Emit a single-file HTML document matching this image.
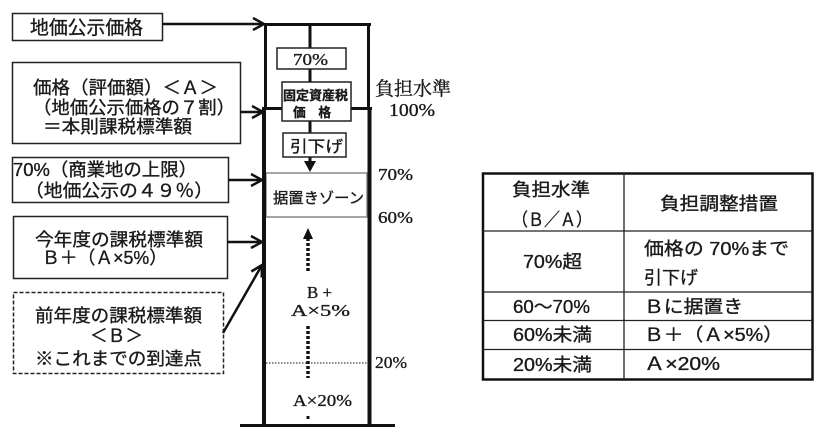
<!DOCTYPE html>
<html><head><meta charset="utf-8"><style>
html,body{margin:0;padding:0;background:#fff;}
svg{display:block;}
text{font-family:"Liberation Sans","Noto Sans CJK JP",sans-serif;fill:#1a1a1a;stroke:#1a1a1a;stroke-width:0.35px;}
.s{font-family:"Liberation Serif","Noto Serif CJK SC",serif;}
</style></head><body>
<svg width="825" height="443" viewBox="0 0 825 443" xmlns="http://www.w3.org/2000/svg">
<rect width="825" height="443" fill="#fff"/>
<g fill="none" stroke="#222" stroke-width="1.5">
<rect x="12.5" y="13.5" width="150" height="27"/>
<rect x="12.5" y="62.5" width="228" height="81"/>
<rect x="12.5" y="157.5" width="216" height="45"/>
<rect x="13.5" y="216.5" width="214" height="62"/>
<rect x="13.5" y="292.5" width="210" height="81" stroke-dasharray="4,2"/>
</g>
<g stroke="#111" stroke-width="2.5" fill="none">
<line x1="162" y1="24" x2="264" y2="24"/><polyline points="253,18 264,24 253,30"/>
<line x1="240" y1="112" x2="263" y2="112"/><polyline points="252,106 263,112 252,118"/>
<line x1="228" y1="180" x2="262" y2="180"/><polyline points="251,174 262,180 251,186"/>
<line x1="227" y1="242" x2="262" y2="242"/><polyline points="251,236 262,242 251,248"/>
<line x1="223" y1="333" x2="262" y2="265"/><polyline points="251.3,271.5 262,265 261.7,277.5"/>
</g>
<rect x="266" y="173" width="101" height="44" fill="#fff" stroke="#888" stroke-width="1.5"/>
<g stroke="#111" fill="none">
<line x1="264" y1="24.5" x2="371" y2="24.5" stroke-width="3"/>
<line x1="265.5" y1="23" x2="265.5" y2="110" stroke-width="3"/>
<line x1="368.5" y1="23" x2="368.5" y2="110" stroke-width="3"/>
<line x1="262" y1="108.5" x2="372" y2="108.5" stroke-width="3"/>
<line x1="264" y1="107" x2="264" y2="427" stroke-width="4"/>
<line x1="369.5" y1="107" x2="369.5" y2="427" stroke-width="4"/>
<line x1="240" y1="425.5" x2="395" y2="425.5" stroke-width="3"/>
<line x1="310" y1="24" x2="310" y2="163" stroke-width="3"/>
</g>
<polygon points="304,161 316,161 310,172" fill="#111"/>
<g fill="#fff" stroke="#222" stroke-width="1.5">
<rect x="277" y="48" width="69" height="21"/>
<rect x="282" y="82" width="69" height="39"/>
<rect x="283" y="133" width="63" height="24"/>
</g>
<g stroke="#111" stroke-width="3.5" stroke-dasharray="3,2">
<line x1="308" y1="238" x2="308" y2="273"/>
<line x1="308" y1="326" x2="308" y2="378"/>
</g>
<polygon points="303,239 313,239 308,228" fill="#111"/>
<rect x="306.5" y="416" width="3" height="3" fill="#111"/>
<line x1="266" y1="363" x2="367" y2="363" stroke="#111" stroke-width="1" stroke-dasharray="1.5,1.5"/>
<text x="30" y="34" font-size="19" textLength="113" lengthAdjust="spacingAndGlyphs">地価公示価格</text>
<text x="33" y="94" font-size="18" textLength="185" lengthAdjust="spacingAndGlyphs">価格（評価額）＜Ａ＞</text>
<text x="33" y="114" font-size="18" textLength="202" lengthAdjust="spacingAndGlyphs">（地価公示価格の７割）</text>
<text x="43" y="133" font-size="18" textLength="149" lengthAdjust="spacingAndGlyphs">＝本則課税標準額</text>
<text x="13" y="176" font-size="18" textLength="184" lengthAdjust="spacingAndGlyphs">70%（商業地の上限）</text>
<text x="25" y="197" font-size="18" textLength="188" lengthAdjust="spacingAndGlyphs">（地価公示の４９％）</text>
<text x="35" y="246" font-size="18" textLength="168" lengthAdjust="spacingAndGlyphs">今年度の課税標準額</text>
<text x="42" y="264" font-size="18" textLength="125" lengthAdjust="spacingAndGlyphs">Ｂ＋（Ａ×5%）</text>
<text x="35" y="322" font-size="18" textLength="167" lengthAdjust="spacingAndGlyphs">前年度の課税標準額</text>
<text x="90" y="342" font-size="18" textLength="53" lengthAdjust="spacingAndGlyphs">＜Ｂ＞</text>
<text x="35" y="365" font-size="18" textLength="167" lengthAdjust="spacingAndGlyphs">※これまでの到達点</text>
<text class="s" x="293" y="65" font-size="17" textLength="35" lengthAdjust="spacingAndGlyphs">70%</text>
<text x="283" y="100" font-size="13" font-weight="bold" textLength="65" lengthAdjust="spacingAndGlyphs">固定資産税</text>
<text x="293" y="117" font-size="13" font-weight="bold" textLength="38" lengthAdjust="spacingAndGlyphs">価　格</text>
<text x="290" y="152" font-size="16" textLength="53" lengthAdjust="spacingAndGlyphs">引下げ</text>
<text x="273" y="203" font-size="15" textLength="91" lengthAdjust="spacingAndGlyphs">据置きゾーン</text>
<text class="s" x="307" y="298" font-size="17" textLength="25" lengthAdjust="spacingAndGlyphs">B +</text>
<text class="s" x="291" y="316" font-size="17" textLength="59" lengthAdjust="spacingAndGlyphs">A×5%</text>
<text class="s" x="293" y="406" font-size="17" textLength="59" lengthAdjust="spacingAndGlyphs">A×20%</text>
<text class="s" x="375" y="95" font-size="19" textLength="76" lengthAdjust="spacingAndGlyphs">負担水準</text>
<text class="s" x="389" y="116" font-size="18" textLength="46" lengthAdjust="spacingAndGlyphs">100%</text>
<text class="s" x="378" y="180" font-size="17" textLength="35" lengthAdjust="spacingAndGlyphs">70%</text>
<text class="s" x="378" y="223" font-size="17" textLength="35" lengthAdjust="spacingAndGlyphs">60%</text>
<text class="s" x="375" y="368" font-size="17" textLength="32" lengthAdjust="spacingAndGlyphs">20%</text>
<rect x="483" y="173.5" width="329.5" height="206" fill="none" stroke="#111" stroke-width="2.5"/>
<g stroke="#222" stroke-width="1.3">
<line x1="624" y1="173" x2="624" y2="380"/>
<line x1="483" y1="231" x2="812" y2="231"/>
<line x1="483" y1="292" x2="812" y2="292"/>
<line x1="483" y1="320.5" x2="812" y2="320.5"/>
<line x1="483" y1="349.5" x2="812" y2="349.5"/>
</g>
<text x="512" y="196" font-size="18" textLength="78" lengthAdjust="spacingAndGlyphs">負担水準</text>
<text x="512" y="226" font-size="18" textLength="80" lengthAdjust="spacingAndGlyphs">（Ｂ／Ａ）</text>
<text x="660" y="210" font-size="18" textLength="118" lengthAdjust="spacingAndGlyphs">負担調整措置</text>
<text x="523" y="268" font-size="18" textLength="59" lengthAdjust="spacingAndGlyphs">70%超</text>
<text x="644" y="255" font-size="18" textLength="145" lengthAdjust="spacingAndGlyphs">価格の 70%まで</text>
<text x="644" y="284" font-size="18" textLength="54" lengthAdjust="spacingAndGlyphs">引下げ</text>
<text x="513" y="313" font-size="18" textLength="77" lengthAdjust="spacingAndGlyphs">60～70%</text>
<text x="644" y="313" font-size="18" textLength="99" lengthAdjust="spacingAndGlyphs">Ｂに据置き</text>
<text x="513" y="341" font-size="18" textLength="79" lengthAdjust="spacingAndGlyphs">60%未満</text>
<text x="644" y="341" font-size="18" textLength="139" lengthAdjust="spacingAndGlyphs">Ｂ＋（Ａ×5%）</text>
<text x="513" y="371" font-size="18" textLength="79" lengthAdjust="spacingAndGlyphs">20%未満</text>
<text x="644" y="370" font-size="18" textLength="76" lengthAdjust="spacingAndGlyphs">Ａ×20%</text>
</svg>
</body></html>
